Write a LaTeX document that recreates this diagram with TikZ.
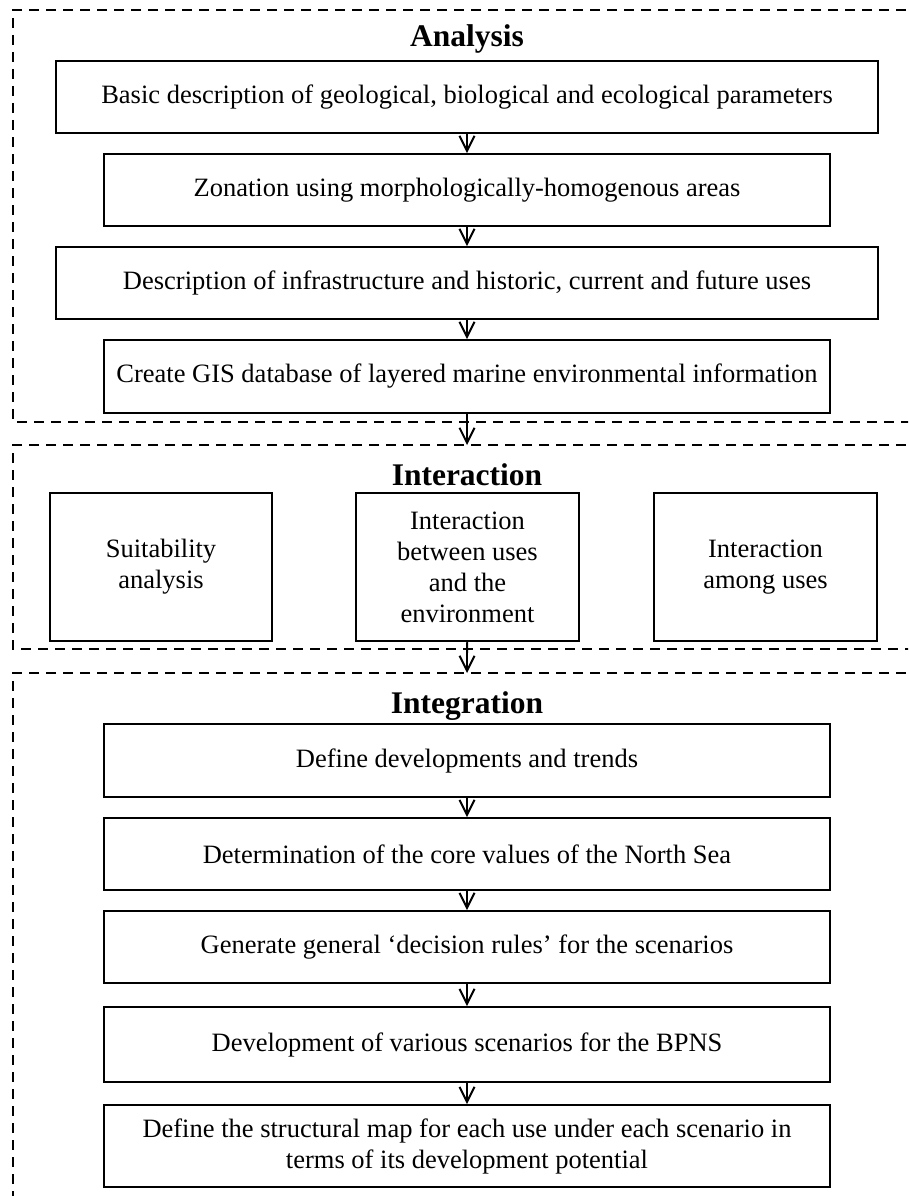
\documentclass[tikz,border=0pt]{standalone}
\usepackage{fontspec}
\setmainfont{Liberation Serif}
\usetikzlibrary{arrows.meta}
\tikzset{
  stepbox/.style={draw, line width=1.8pt, align=center, inner sep=0pt,
    font=\fontsize{26.5}{31}\selectfont},
  phase/.style={draw, line width=1.6pt, dash pattern=on 10pt off 7pt},
  title/.style={font=\fontsize{31.5}{36}\selectfont\bfseries, inner sep=0pt},
  flow/.style={line width=1.8pt, -{Straight Barb[length=15pt,width=15pt,line width=2pt]}}
}
\begin{document}
\begin{tikzpicture}[x=1pt,y=-1pt]
\useasboundingbox (0,0) rectangle (908,1196);
\clip (0,0) rectangle (908,1196);
% phase frames
\draw[phase] (940,10) -- (13,10) -- (13,422) -- (940,422);
\draw[phase] (940,445) -- (13,445) -- (13,649) -- (940,649);
\draw[phase] (940,673) -- (13,673) -- (13,1220);
\coordinate (intTop) at (467,445);
\coordinate (integTop) at (467,673);
% titles
\node[title] (tA) at (467,39) {Analysis};
\node[title] (tB) at (467,475) {Interaction};
\node[title] (tC) at (467,706) {Integration};
% analysis
\node[stepbox, minimum width=822pt, minimum height=72pt] (a1) at (467,97) {Basic description of geological, biological and ecological parameters};
\node[stepbox, minimum width=726pt, minimum height=72pt] (a2) at (467,190) {Zonation using morphologically-homogenous areas};
\node[stepbox, minimum width=822pt, minimum height=72pt] (a3) at (467,283) {Description of infrastructure and historic, current and future uses};
\node[stepbox, minimum width=726pt, minimum height=73pt] (a4) at (467,376.5) {Create GIS database of layered marine environmental information};
\draw[flow] (a1) -- (a2);
\draw[flow] (a2) -- (a3);
\draw[flow] (a3) -- (a4);
\draw[flow] (a4) -- (intTop);
% interaction
\node[stepbox, minimum width=222pt, minimum height=148pt] (b1) at (161,567) {Suitability\\analysis};
\node[stepbox, minimum width=223pt, minimum height=148pt] (b2) at (467.5,567) {Interaction\\between uses\\and the\\environment};
\node[stepbox, minimum width=223pt, minimum height=148pt] (b3) at (765.5,567) {Interaction\\among uses};
\draw[flow] (b2) -- (integTop);
% integration
\node[stepbox, minimum width=726pt, minimum height=73pt] (c1) at (467,760.5) {Define developments and trends};
\node[stepbox, minimum width=726pt, minimum height=72pt] (c2) at (467,854) {Determination of the core values of the North Sea};
\node[stepbox, minimum width=726pt, minimum height=72pt] (c3) at (467,947) {Generate general `decision rules' for the scenarios};
\node[stepbox, minimum width=726pt, minimum height=75pt] (c4) at (467,1044.5) {Development of various scenarios for the BPNS};
\node[stepbox, minimum width=726pt, minimum height=82pt] (c5) at (467,1146) {Define the structural map for each use under each scenario in\\terms of its development potential};
\draw[flow] (c1) -- (c2);
\draw[flow] (c2) -- (c3);
\draw[flow] (c3) -- (c4);
\draw[flow] (c4) -- (c5);
\end{tikzpicture}
\end{document}
